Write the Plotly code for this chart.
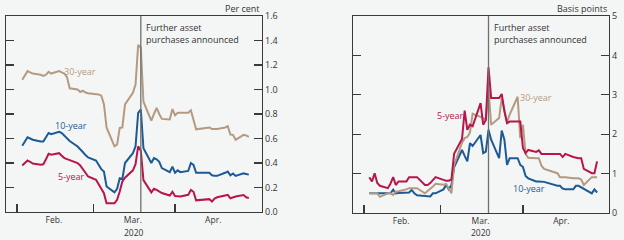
import pandas as pd
import plotly.graph_objects as go

# Business days 3 Feb - 29 Apr 2020 (UK Easter holidays excluded)
dates = pd.bdate_range("2020-02-03", "2020-04-29", freq="C",
                       holidays=["2020-04-10", "2020-04-13"])

# ---- Left panel: gilt yields, per cent ----
yld_30y = [1.08, 1.12, 1.15, 1.14, 1.13, 1.12, 1.11, 1.12, 1.145, 1.13,
           1.15, 1.14, 1.13, 1.10, 1.01, 1.00, 0.98, 0.99, 0.975, 0.97,
           0.965, 0.96, 0.95, 0.88, 0.69, 0.536, 0.55, 0.686, 0.69, 0.878,
           0.973, 1.04, 1.364, 1.343, 0.90, 0.746, 0.80, 0.85, 0.80, 0.76,
           0.755, 0.84,
           0.79, 0.81, 0.81, 0.81, 0.83, 0.76, 0.675, 0.69, 0.678, 0.678,
           0.678, 0.69, 0.70, 0.632, 0.63, 0.59, 0.63, 0.625, 0.613]
yld_10y = [0.54, 0.58, 0.61, 0.60, 0.59, 0.575, 0.575, 0.61, 0.645, 0.635,
           0.655, 0.645, 0.625, 0.60, 0.58, 0.535, 0.515, 0.49, 0.465, 0.445,
           0.42, 0.385, 0.35, 0.33, 0.208, 0.16, 0.19, 0.276, 0.27, 0.40,
           0.48, 0.536, 0.81, 0.837, 0.52, 0.40, 0.44, 0.43, 0.41, 0.358,
           0.325, 0.37,
           0.32, 0.34, 0.325, 0.335, 0.40, 0.385, 0.32, 0.32, 0.30, 0.295,
           0.295, 0.32, 0.33, 0.30, 0.315, 0.295, 0.315, 0.31, 0.305]
yld_5y = [0.38, 0.40, 0.42, 0.41, 0.395, 0.386, 0.39, 0.43, 0.475, 0.468,
          0.48, 0.46, 0.44, 0.432, 0.425, 0.40, 0.38, 0.35, 0.32, 0.29,
          0.263, 0.22, 0.19, 0.153, 0.071, 0.071, 0.10, 0.167, 0.25, 0.28,
          0.34, 0.39, 0.536, 0.50, 0.26, 0.16, 0.19, 0.18, 0.17, 0.155,
          0.135, 0.165,
          0.13, 0.128, 0.126, 0.14, 0.18, 0.165, 0.095, 0.105, 0.085, 0.11,
          0.12, 0.135, 0.14, 0.112, 0.12, 0.126, 0.138, 0.12, 0.115]

# ---- Right panel: basis points ----
bp_5y = [0.91, 0.80, 1.01, 0.76, 0.69, 0.63, 0.75, 0.91, 0.71, 0.80,
         0.80, 0.91, 0.91, 0.91, 0.91, 0.71, 0.71, 0.76, 0.84, 0.91,
         0.84, 0.82, 0.82, 0.85, 1.50, 1.88, 2.60, 2.11, 2.24, 2.20,
         2.79, 2.24, 2.37, 3.70, 2.92, 2.92, 3.02, 2.58, 2.28, 2.32,
         2.32, 2.32,
         1.65, 1.52, 1.60, 1.55, 1.59, 1.50, 1.50, 1.50, 1.50, 1.42,
         1.50, 1.42, 1.40, 1.39, 1.39, 1.12, 1.01, 1.01, 1.31]
bp_10y = [0.50, 0.50, 0.50, 0.50, 0.50, 0.50, 0.50, 0.59, 0.50, 0.51,
          0.51, 0.52, 0.585, 0.50, 0.45, 0.43, 0.415, 0.42, 0.50, 0.50,
          0.60, 0.71, 0.60, 0.71, 1.16, 1.60, 1.45, 1.31, 1.77, 1.70,
          1.98, 1.52, 1.56, 2.11, 1.86, 1.39, 2.09, 1.86, 1.22, 1.39,
          1.39, 1.22,
          1.17, 0.94, 0.88, 0.80, 0.80, 0.80, 0.79, 0.69, 0.69, 0.62,
          0.60, 0.60, 0.69, 0.69, 0.65, 0.60, 0.50, 0.60, 0.52]
bp_30y = [0.50, 0.50, 0.50, 0.50, 0.41, 0.50, 0.50, 0.46, 0.54, 0.55,
          0.60, 0.63, 0.63, 0.63, 0.63, 0.50, 0.55, 0.62, 0.67, 0.74,
          0.72, 0.74, 0.62, 0.50, 1.22, 1.78, 1.90, 1.93, 2.04, 2.52,
          2.44, 2.40, 2.37, 3.15, 2.24, 2.41, 2.92, 2.62, 2.30, 2.50,
          2.95, 1.90,
          2.24, 1.50, 1.40, 1.39, 1.39, 1.20, 1.12, 1.01, 0.91, 0.91,
          0.91, 0.88, 0.88, 0.88, 0.85, 0.71, 0.91, 0.91, 0.91]

month_starts = ["2020-02-01", "2020-03-01", "2020-04-01"]
month_mids = ["2020-02-15", "2020-03-16", "2020-04-15 12:00"]
month_labels = ["Feb.", "Mar.", "Apr."]
yticks_left = [0, 0.2, 0.4, 0.6, 0.8, 1.0, 1.2, 1.4, 1.6]
ylabels_left = ["0.0", "0.2", "0.4", "0.6", "0.8", "1.0", "1.2", "1.4", "1.6"]
yticks_right = [0, 1, 2, 3, 4, 5]
ylabels_right = ["0", "1", "2", "3", "4", "5"]
event_date = "2020-03-19"

C5, C10, C30 = "#b8154a", "#1d5a95", "#b49a80"
BG = "#f4f6f6"
AX = "#3a3a3a"
TXT = "#333333"
FONT = "Open Sans"
W, H = 624, 240


def px_x(p):
    return p / W


def px_y(p):
    return (H - p) / H


fig = go.Figure()

fig.add_trace(go.Scatter(x=dates, y=yld_30y, mode="lines", line=dict(color=C30, width=2),
                         xaxis="x", yaxis="y"))
fig.add_trace(go.Scatter(x=dates, y=yld_10y, mode="lines", line=dict(color=C10, width=2),
                         xaxis="x", yaxis="y"))
fig.add_trace(go.Scatter(x=dates, y=yld_5y, mode="lines", line=dict(color=C5, width=2),
                         xaxis="x", yaxis="y"))

fig.add_trace(go.Scatter(x=dates, y=bp_10y, mode="lines", line=dict(color=C10, width=2),
                         xaxis="x2", yaxis="y2"))
fig.add_trace(go.Scatter(x=dates, y=bp_30y, mode="lines", line=dict(color=C30, width=2),
                         xaxis="x2", yaxis="y2"))
fig.add_trace(go.Scatter(x=dates, y=bp_5y, mode="lines", line=dict(color=C5, width=2),
                         xaxis="x2", yaxis="y2"))


def xaxis_cfg(domain, rng, anchor):
    return dict(domain=domain, range=rng, autorange=False, anchor=anchor, type="date",
                automargin=False,
                showline=True, linecolor=AX, linewidth=1.2, mirror=True,
                showgrid=False, zeroline=False,
                tickmode="array", tickvals=month_mids, ticktext=month_labels,
                ticks="", tickfont=dict(size=8.5, color=TXT, family=FONT),
                minor=dict(tickmode="array", tickvals=month_starts, ticks="inside",
                           ticklen=8, tickcolor=AX, tickwidth=1.2, showgrid=False))


def yaxis_cfg(domain, rng, anchor, vals, labels):
    return dict(domain=domain, range=rng, autorange=False, anchor=anchor, side="right",
                automargin=False,
                showline=True, linecolor=AX, linewidth=1.2, mirror="ticks",
                showgrid=False, zeroline=False,
                tickmode="array", tickvals=vals, ticktext=labels,
                ticks="inside", ticklen=8, tickcolor=AX, tickwidth=1.2,
                tickfont=dict(size=9, color=TXT, family=FONT))


fig.update_layout(
    template="none",
    width=W, height=H,
    margin=dict(l=0, r=0, t=0, b=0, pad=0, autoexpand=False),
    paper_bgcolor=BG, plot_bgcolor=BG,
    showlegend=False,
    hovermode=False,
    font=dict(family=FONT, size=9, color=TXT),
    xaxis=xaxis_cfg([px_x(6), px_x(262)], ["2020-01-27 20:00", "2020-05-04 00:00"], "y"),
    yaxis=yaxis_cfg([px_y(212), px_y(16)], [0, 1.6], "x", yticks_left, ylabels_left),
    xaxis2=xaxis_cfg([px_x(353), px_x(609)], ["2020-01-27 20:00", "2020-05-03 12:00"], "y2"),
    yaxis2=yaxis_cfg([px_y(213), px_y(16)], [0, 5], "x2", yticks_right, ylabels_right),
)

shapes = []
for xr, yr in (("x", "y"), ("x2", "y2")):
    shapes.append(dict(type="line", xref=xr, yref=yr + " domain", x0=event_date, x1=event_date,
                       y0=0, y1=1, line=dict(color="#707070", width=1.3), layer="above"))
fig.update_layout(shapes=shapes)

ann = []
for xr in ("x", "x2"):
    ann.append(dict(xref=xr, yref="paper", x=event_date, y=px_y(19), xanchor="left",
                    yanchor="top", xshift=3, showarrow=False, align="left",
                    text="Further asset<br>purchases announced",
                    font=dict(size=9, color=TXT)))
ann.append(dict(xref="paper", yref="paper", x=px_x(262), y=px_y(9), xanchor="right",
                yanchor="middle", showarrow=False, text="Per cent", font=dict(size=9, color=TXT)))
ann.append(dict(xref="paper", yref="paper", x=px_x(609), y=px_y(9), xanchor="right",
                yanchor="middle", showarrow=False, text="Basis points", font=dict(size=9, color=TXT)))
ann.append(dict(xref="paper", yref="paper", x=px_x(134), y=px_y(232), xanchor="center",
                yanchor="middle", showarrow=False, text="2020", font=dict(size=8.5, color=TXT)))
ann.append(dict(xref="paper", yref="paper", x=px_x(481), y=px_y(232), xanchor="center",
                yanchor="middle", showarrow=False, text="2020", font=dict(size=8.5, color=TXT)))
# Series labels
ann.append(dict(xref="x", yref="y", x="2020-02-24 20:00", y=1.148, showarrow=False,
                text="30-year", font=dict(size=9, color=C30)))
ann.append(dict(xref="x", yref="y", x="2020-02-21 14:00", y=0.705, showarrow=False,
                text="10-year", font=dict(size=9, color=C10)))
ann.append(dict(xref="x", yref="y", x="2020-02-21 20:00", y=0.29, showarrow=False,
                text="5-year", font=dict(size=9, color=C5)))
ann.append(dict(xref="x2", yref="y2", x="2020-03-04 12:00", y=2.47, showarrow=False,
                text="5-year", font=dict(size=9, color=C5)))
ann.append(dict(xref="x2", yref="y2", x="2020-04-06", y=2.93, showarrow=False,
                text="30-year", font=dict(size=9, color=C30)))
ann.append(dict(xref="x2", yref="y2", x="2020-04-03 06:00", y=0.61, showarrow=False,
                text="10-year", font=dict(size=9, color=C10)))
fig.update_layout(annotations=ann)

fig.write_html("out.html",
               config={"displayModeBar": False, "staticPlot": True},
               post_script="document.body.style.margin='0';document.body.style.background='%s';" % BG)
